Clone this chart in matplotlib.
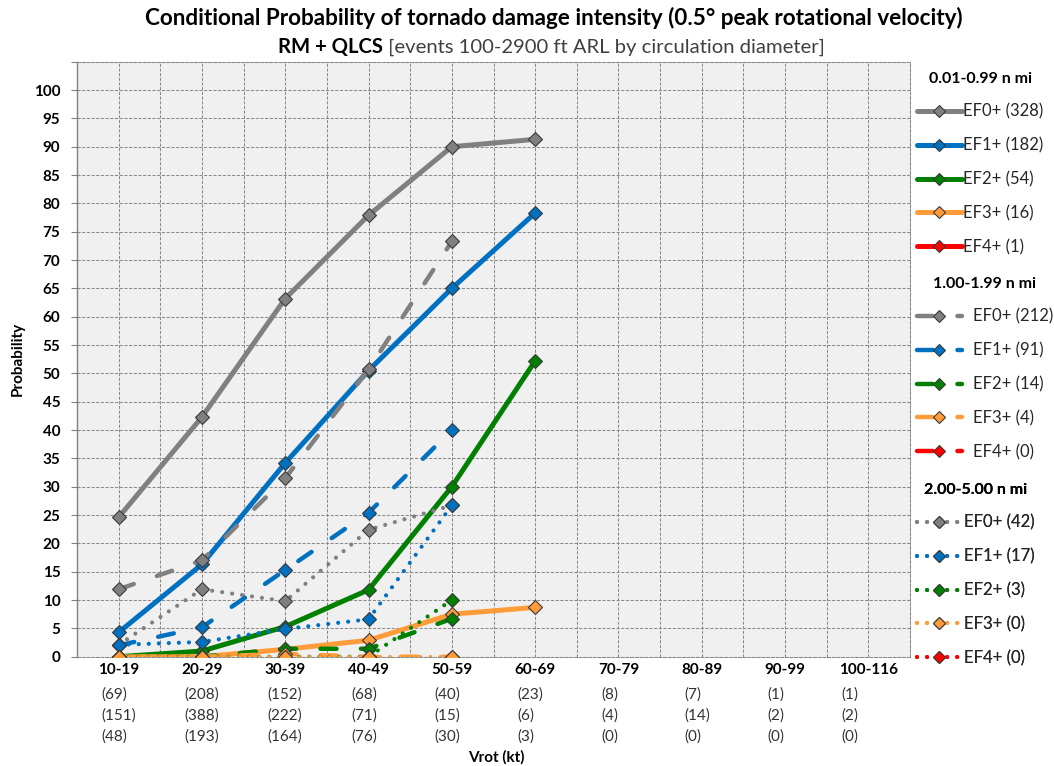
import matplotlib
matplotlib.use("Agg")
import matplotlib.pyplot as plt
from matplotlib.font_manager import FontProperties
from matplotlib.ticker import FixedLocator

# ---------------- data ----------------
categories = ['10-19', '20-29', '30-39', '40-49', '50-59', '60-69',
              '70-79', '80-89', '90-99', '100-116']
counts_small = [69, 208, 152, 68, 40, 23, 8, 7, 1, 1]
counts_mid = [151, 388, 222, 71, 15, 6, 4, 14, 2, 2]
counts_large = [48, 193, 164, 76, 30, 3, 0, 0, 0, 0]

# 0.01-0.99 n mi (solid)
small_ef0 = [24.6, 42.3, 63.2, 77.9, 90.0, 91.3]
small_ef1 = [4.3, 16.3, 34.2, 50.5, 65.0, 78.3]
small_ef2 = [0.0, 1.0, 5.3, 11.8, 30.0, 52.2]
small_ef3 = [0.0, 0.0, 1.3, 2.9, 7.5, 8.7]
small_ef4 = []
# 1.00-1.99 n mi (dashed)
mid_ef0 = [11.9, 17.0, 31.5, 50.7, 73.3]
mid_ef1 = [2.0, 5.2, 15.3, 25.4, 40.0]
mid_ef2 = [0.0, 0.0, 1.4, 1.4, 6.7]
mid_ef3 = [0.0, 0.0, 0.5, 0.0, 0.0]
mid_ef4 = []
# 2.00-5.00 n mi (dotted)
large_ef0 = [2.1, 11.9, 9.8, 22.4, 26.7]
large_ef1 = [2.1, 2.6, 4.9, 6.6, 26.7]
large_ef2 = [0.0, 0.0, 0.0, 0.0, 10.0]
large_ef3 = [0.0, 0.0, 0.0, 0.0, 0.0]
large_ef4 = []

labels_small = ['EF0+ (328)', 'EF1+ (182)', 'EF2+ (54)', 'EF3+ (16)', 'EF4+ (1)']
labels_mid = ['EF0+ (212)', 'EF1+ (91)', 'EF2+ (14)', 'EF3+ (4)', 'EF4+ (0)']
labels_large = ['EF0+ (42)', 'EF1+ (17)', 'EF2+ (3)', 'EF3+ (0)', 'EF4+ (0)']
group_titles = ['0.01-0.99 n mi', '1.00-1.99 n mi', '2.00-5.00 n mi']

title1 = 'Conditional Probability of tornado damage intensity (0.5\u00b0 peak rotational velocity)'
title2_bold = 'RM + QLCS'
title2_rest = ' [events 100-2900 ft ARL by circulation diameter]'

colors = ['#808080', '#0070C0', '#008000', '#FF9B38', '#FF0000']

# ---------------- figure ----------------
W, H = 1054, 766
fig = plt.figure(figsize=(W / 100, H / 100), dpi=100)
fig.patch.set_facecolor('white')

def fx(px):
    return px / W

def fy(py):
    return 1 - py / H

ax_left, ax_right, ax_top, ax_bot = 77, 910, 61.7, 656.7
ax = fig.add_axes([fx(ax_left), fy(ax_bot), fx(ax_right - ax_left), (ax_bot - ax_top) / H])
ax.set_facecolor('#F0F0F0')

FONT = 'Lato'
x = list(range(len(categories)))

series = [
    [small_ef0, small_ef1, small_ef2, small_ef3, small_ef4],
    [mid_ef0, mid_ef1, mid_ef2, mid_ef3, mid_ef4],
    [large_ef0, large_ef1, large_ef2, large_ef3, large_ef4],
]
styles = [
    dict(linestyle='-', linewidth=3.6, solid_capstyle='round'),
    dict(linestyle=(0, (3.6, 5.5)), linewidth=3.2, dash_capstyle='round'),
    dict(linestyle=(0, (0.01, 2.4)), linewidth=3.0, dash_capstyle='round'),
]

handles = []
for g, (grp, st) in enumerate(zip(series, styles)):
    hs = []
    for k, vals in enumerate(grp):
        ln, = ax.plot(x[:len(vals)], vals, color=colors[k], marker='D', markersize=6.8,
                      markerfacecolor=colors[k], markeredgecolor='#3a3a3a',
                      markeredgewidth=0.8, zorder=3 + g, **st)
        hs.append(ln)
    handles.append(hs)

ax.set_xlim(-0.5, len(categories) - 0.5)
ax.set_ylim(0, 105)

# ticks
ax.xaxis.set_major_locator(FixedLocator(x))
ax.xaxis.set_minor_locator(FixedLocator([i - 0.5 for i in range(len(categories) + 1)]))
ax.set_xticklabels(categories, fontfamily=FONT, fontweight='bold', fontsize=11)
ax.tick_params(axis='x', which='both', length=0, pad=4.2)
yt = list(range(0, 106, 5))
ax.yaxis.set_major_locator(FixedLocator(yt))
ax.set_yticklabels([str(v) if v <= 100 else '' for v in yt],
                   fontfamily=FONT, fontweight='bold', fontsize=11)
ax.tick_params(axis='y', which='major', length=4, width=0.8, color='#808080', pad=8)

grid_style = dict(color='#8a8a8a', linestyle=(0, (3, 1.5)), linewidth=0.75)
ax.grid(True, which='major', axis='y', **grid_style)
ax.grid(True, which='both', axis='x', **grid_style)
ax.set_axisbelow(True)
for s in ['top', 'right', 'bottom']:
    ax.spines[s].set_color('#8a8a8a')
    ax.spines[s].set_linestyle((0, (3, 1.5)))
    ax.spines[s].set_linewidth(0.75)
ax.spines['left'].set_color('#808080')
ax.spines['left'].set_linewidth(1.0)

# y label
fig.text(fx(18), fy(359), 'Probability', rotation=90, ha='center', va='center',
         fontfamily=FONT, fontweight='bold', fontsize=11)
# x label
fig.text(fx(496), fy(757), 'Vrot (kt)', ha='center', va='center',
         fontfamily=FONT, fontweight='bold', fontsize=11)

# titles
fig.text(fx(554), fy(18), title1, ha='center', va='center',
         fontfamily=FONT, fontweight='bold', fontsize=16.2)

t_b = fig.text(0, fy(47), title2_bold, ha='left', va='center',
               fontfamily=FONT, fontweight='bold', fontsize=14.6)
t_r = fig.text(0, fy(47), title2_rest, ha='left', va='center',
               fontfamily=FONT, fontsize=14.6, color='#404040')

# legends
leg_tops = [72, 277, 483]
pads = [0.1, 0.65, 0.15]
group_labels = [labels_small, labels_mid, labels_large]
for g in range(3):
    leg = ax.legend(handles[g], group_labels[g], loc='upper left',
                    bbox_to_anchor=(fx(916.7), fy(leg_tops[g])),
                    bbox_transform=fig.transFigure, frameon=False,
                    borderpad=0, borderaxespad=0, handlelength=2.7,
                    handletextpad=pads[g], labelspacing=1.06, numpoints=1,
                    markerscale=0.85,
                    prop=FontProperties(family=FONT, size=12),
                    labelcolor='#262626',
                    title=group_titles[g],
                    title_fontproperties=FontProperties(family=FONT, weight='bold', size=11.5))
    ax.add_artist(leg)

# layout-dependent text placement
fig.canvas.draw()
r = fig.canvas.get_renderer()
wb = t_b.get_window_extent(r).width
wr = t_r.get_window_extent(r).width
start = 551 - (wb + wr) / 2
t_b.set_x(fx(start))
t_r.set_x(fx(start + wb))

rows = [counts_small, counts_mid, counts_large]
row_y = [695, 716, 736.7]
for lab, i in zip(ax.get_xticklabels(), x):
    left = lab.get_window_extent(r).x0 + 3
    for cnt, yy in zip(rows, row_y):
        fig.text(left / W, fy(yy), f'({cnt[i]})', ha='left', va='center',
                 fontfamily=FONT, fontsize=11, color='#333333')

fig.savefig('out.png', dpi=100, facecolor='white')
